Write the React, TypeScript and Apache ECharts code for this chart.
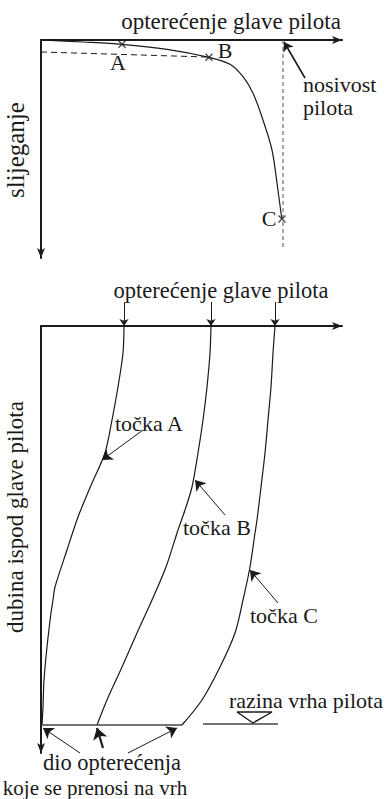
import React, { useEffect, useRef } from "react";
import * as echarts from "echarts";

// ---- Top diagram: load at pile head vs settlement (arbitrary units) ----
const curveLoad = [0, 42, 81, 126, 168, 189, 202, 212, 222, 231, 236, 240, 241];
const curveSettle = [0, 2, 4.3, 9.3, 17.3, 24.3, 36.7, 53.3, 80, 110, 143, 173, 179];
const pointNames = ["A", "B", "C"];
const pointLoad = [81, 168, 241];
const pointSettle = [4.3, 17.3, 179];
const initialTangentLoad = [0, 166];
const initialTangentSettle = [12, 17];
const capacityLoad = 242;
const capacitySettleRange = [0, 208];
const topLoadMax = 301;
const topSettleMax = 218;

// ---- Bottom diagram: axial load vs depth below pile head ----
const depthA = [0, 27, 61, 94, 127, 157, 191, 224, 261, 274, 287, 321, 354, 381, 399];
const loadA = [83, 82, 77, 71, 64, 51, 37, 26, 14, 12, 10, 6, 3, 2, 1];
const depthB = [0, 27, 61, 94, 127, 161, 184, 204, 241, 274, 307, 341, 374, 399];
const loadB = [170, 169, 166, 162, 157, 151, 144, 137, 125, 111, 96, 81, 66, 56];
const depthC = [0, 27, 61, 94, 127, 161, 194, 207, 241, 274, 307, 341, 374, 399];
const loadC = [234, 232, 230, 227, 224, 220, 216, 214, 209, 202, 194, 179, 161, 141];
const tipDepth = 399;
const headLoads = [83, 170, 234];
const botLoadMax = 301;
const botDepthMax = 427;

const FONT = "'Liberation Serif', 'Times New Roman', serif";
const INK = "#1a1a1a";

function zip(xs: number[], ys: number[]) {
  return xs.map((x, i) => [x, ys[i]]);
}

export default function App() {
  const ref = useRef<HTMLDivElement>(null);
  useEffect(() => {
    if (!ref.current) return;
    const chart = echarts.init(ref.current, null, { renderer: "svg" });

    const mkAxisLine = (sym: string[]) => ({
      show: true,
      onZero: false,
      symbol: sym,
      symbolSize: [6, 10],
      lineStyle: { color: INK, width: 2 },
    });
    const hidden = {
      axisTick: { show: false },
      axisLabel: { show: false },
      splitLine: { show: false },
    };
    const crossPath = "path://M0,0L10,10M10,0L0,10";

    const text = (
      t: string,
      x: number,
      y: number,
      size: number,
      align: string = "left",
      rotation = 0
    ) => ({
      type: "text",
      x,
      y,
      rotation,
      style: {
        text: t,
        font: `${size}px ${FONT}`,
        fontFamily: FONT,
        fontSize: size,
        fill: INK,
        textAlign: align,
        textVerticalAlign: "middle",
      },
    });

    const arrowLines = (xi: number, data: number[][][], width = 1, size = 8) => ({
      type: "lines",
      coordinateSystem: "cartesian2d",
      xAxisIndex: xi,
      yAxisIndex: xi,
      clip: false,
      symbol: ["none", "arrow"],
      symbolSize: size,
      lineStyle: { color: INK, width, opacity: 1, curveness: 0 },
      data: data.map((c) => ({ coords: c })),
    });

    const plain = (xi: number, data: number[][], extra: any = {}) => ({
      type: "line",
      xAxisIndex: xi,
      yAxisIndex: xi,
      clip: false,
      symbol: "none",
      silent: true,
      data,
      lineStyle: { color: INK, width: 1.2, ...(extra.lineStyle || {}) },
    });

    chart.setOption({
      animation: false,
      backgroundColor: "#fff",
      textStyle: { fontFamily: FONT },
      grid: [
        { left: 41, top: 40, width: 301, height: 218 },
        { left: 41, top: 326, width: 301, height: 427 },
      ],
      xAxis: [
        { gridIndex: 0, type: "value", min: 0, max: topLoadMax, position: "top", axisLine: mkAxisLine(["none", "arrow"]), ...hidden },
        { gridIndex: 1, type: "value", min: 0, max: botLoadMax, position: "top", axisLine: mkAxisLine(["none", "arrow"]), ...hidden },
      ],
      yAxis: [
        { gridIndex: 0, type: "value", min: 0, max: topSettleMax, inverse: true, axisLine: mkAxisLine(["arrow", "none"]), ...hidden },
        { gridIndex: 1, type: "value", min: 0, max: botDepthMax, inverse: true, axisLine: mkAxisLine(["arrow", "none"]), ...hidden },
      ],
      series: [
        // top: load-settlement curve
        { ...plain(0, zip(curveLoad, curveSettle)), smooth: 0.3 },
        plain(0, zip(initialTangentLoad, initialTangentSettle), {
          lineStyle: { type: [6, 4], width: 1 },
        }),
        plain(0, [
          [capacityLoad, capacitySettleRange[0]],
          [capacityLoad, capacitySettleRange[1]],
        ], { lineStyle: { type: [4, 3], width: 1, color: "#555" } }),
        {
          type: "scatter",
          xAxisIndex: 0,
          yAxisIndex: 0,
          symbol: crossPath,
          symbolSize: 7,
          itemStyle: { color: "none", borderColor: INK, borderWidth: 1.3 },
          data: pointNames.map((n, i) => ({ name: n, value: [pointLoad[i], pointSettle[i]] })),
        },
        arrowLines(0, [[[264, 38], [243, 2]]], 1.6, 9),
        // bottom: load distribution curves
        { ...plain(1, zip(loadA, depthA)), smooth: 0.3 },
        { ...plain(1, zip(loadB, depthB)), smooth: 0.3 },
        { ...plain(1, zip(loadC, depthC)), smooth: 0.3 },
        plain(1, [[0, tipDepth], [loadC[loadC.length - 1], tipDepth]], {
          lineStyle: { color: "#444", width: 1.4 },
        }),
        plain(1, [[162, tipDepth - 1], [237, tipDepth - 1]], {
          lineStyle: { color: "#444", width: 1.4 },
        }),
        plain(1, [[196, 386], [231, 386], [212, 397], [196, 386]], {
          lineStyle: { width: 1.4 },
        }),
        arrowLines(
          1,
          headLoads.map((l) => [[l, -24], [l, 0]]),
          1,
          7
        ),
        arrowLines(1, [
          [[102, 104], [61, 134]],
          [[184, 189], [154, 154]],
          [[237, 277], [209, 244]],
          [[39, 427], [2, 402]],
          [[87, 427], [136, 402]],
        ], 1, 10),
        arrowLines(1, [[[62, 422], [56, 402]]], 2.2, 11),
      ],
      graphic: [
        text("opterećenje glave pilota", 231, 21, 23, "center"),
        text("A", 118, 62, 22, "center"),
        text("B", 225, 50, 22, "center"),
        text("C", 269, 218, 22, "center"),
        text("nosivost", 303, 84, 22),
        text("pilota", 303, 107, 22),
        text("slijeganje", 15, 150, 25, "center", Math.PI / 2),
        text("opterećenje glave pilota", 221, 290, 22.5, "center"),
        text("točka A", 115, 423, 22),
        text("točka B", 183, 527, 22),
        text("točka C", 250, 615, 22),
        text("razina vrha pilota", 229, 700, 22),
        text("dubina ispod glave pilota", 15, 517, 23, "center", Math.PI / 2),
        text("dio opterećenja", 112, 762, 22.5, "center"),
        text("koje se prenosi na vrh", 95, 788, 21, "center"),
      ],
    });
    return () => chart.dispose();
  }, []);
  return (
    <div
      ref={ref}
      style={{ position: "fixed", left: 0, top: 0, width: 390, height: 799, background: "#fff" }}
    />
  );
}
